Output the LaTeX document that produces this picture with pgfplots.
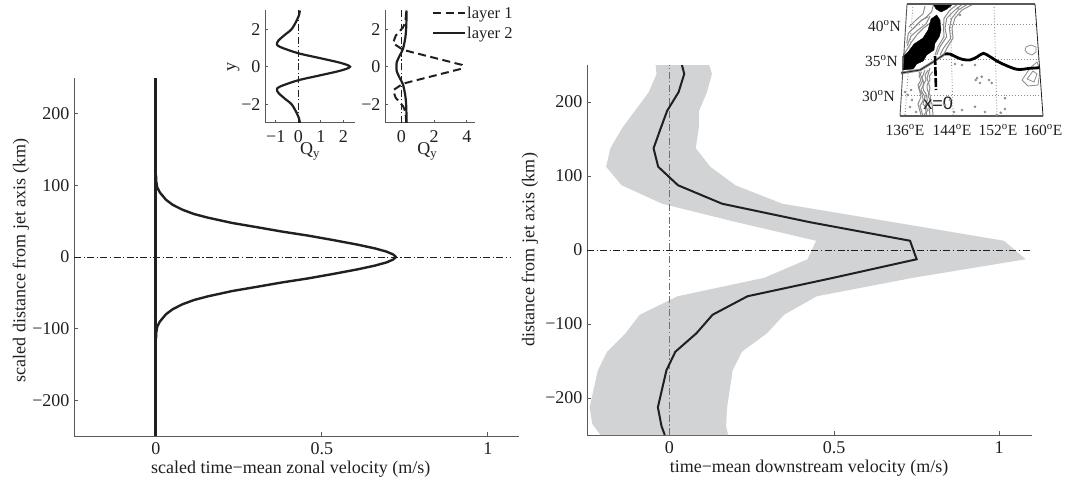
\documentclass[border=0pt]{standalone}
\usepackage{pgfplots}
\pgfplotsset{compat=1.18}
\usepackage{fontspec}
\setmainfont{Liberation Serif}
\newfontfamily\arialfont{Liberation Sans}
\definecolor{ink}{HTML}{231F20}
\definecolor{spine}{HTML}{58595B}
\definecolor{shade}{HTML}{D1D3D4}
\definecolor{cont}{HTML}{8C8C8C}
\pgfplotsset{
  base/.style={scale only axis, axis lines=left, axis line style={spine,line width=1pt,-},
    tick align=inside, major tick length=4pt, tick style={spine,line width=.8pt},
    tick label style={font=\fontsize{18}{21}\selectfont, text=ink},
    label style={font=\fontsize{18}{21}\selectfont, text=ink},
    xticklabel style={yshift=-3pt}, yticklabel style={xshift=-1pt}},
  ddot/.style={dash pattern=on 7pt off 2.5pt on 1.2pt off 2.5pt},
}
\begin{document}
\begin{tikzpicture}[x=1pt,y=1pt]
\path[use as bounding box] (0,0) rectangle (1066,480);
% left main
\begin{axis}[base, at={(74pt,44pt)}, anchor=south west, width=445pt, height=358pt,
  xmin=-0.247,xmax=1.094,ymin=-250,ymax=250,
  xtick={0,0.5,1},xticklabels={0,0.5,1},
  ytick={-200,-100,0,100,200},yticklabels={−200,−100,0,100,200},
  xlabel={scaled time−mean zonal velocity (m/s)},
  ylabel={scaled distance from jet axis (km)},
  xlabel style={anchor=center,at={(axis description cs:0.487,-0.092)}},
  ylabel style={anchor=center,rotate=0,at={(axis description cs:-0.119,0.49)}}]
\addplot[ink,line width=1pt,ddot] coordinates {(-0.247,0) (1.07,0)};
\addplot[ink,line width=3pt] coordinates {(0,-250) (0,250)};
\addplot[ink,line width=2.4pt,line join=round] coordinates {
 (0,-115) (0.001,-105) (0.004,-97) (0.012,-90) (0.03,-80) (0.05,-73) (0.08,-66) (0.115,-60) (0.156,-55) (0.23,-47.5) (0.306,-41.5) (0.38,-35.5) (0.457,-30) (0.53,-24) (0.607,-17.3) (0.66,-12) (0.695,-7.5) (0.715,-3.5) (0.723,0)
 (0.715,3.5) (0.695,7.5) (0.66,12) (0.607,17.3) (0.53,24) (0.457,30) (0.38,35.5) (0.306,41.5) (0.23,47.5) (0.156,55) (0.115,60) (0.08,66) (0.05,73) (0.03,80) (0.012,90) (0.004,97) (0.001,105) (0,115)};
\end{axis}
% right main
\begin{axis}[base, at={(587pt,45pt)}, anchor=south west, width=445pt, height=370pt,
  xmin=-0.25,xmax=1.1,ymin=-250,ymax=250,
  xtick={0,0.5,1},xticklabels={0,0.5,1},
  ytick={-200,-100,0,100,200},yticklabels={−200,−100,0,100,200},
  xlabel={time−mean downstream velocity (m/s)},
  ylabel={distance from jet axis (km)},
  xlabel style={anchor=center,at={(axis description cs:0.499,-0.091)}},
  ylabel style={anchor=center,rotate=0,at={(axis description cs:-0.128,0.5)}}]
\addplot[fill=shade,draw=none] coordinates {
 (-0.042,250) (-0.039,238) (-0.063,213) (-0.143,165) (-0.179,137.5) (-0.192,112.5) (-0.145,87.5) (-0.022,62.5) (0.205,37.5) (0.445,12.5)
 (0.419,-12.5) (0.288,-37.5) (0.025,-62.5) (-0.09,-87.5) (-0.133,-112.5) (-0.189,-137.5) (-0.217,-162.5) (-0.242,-212.5) (-0.234,-235) (-0.209,-250)
 (0.178,-250) (0.172,-238) (0.175,-212.5) (0.192,-162.5) (0.22,-137.5) (0.296,-112.5) (0.348,-87.5) (0.447,-62.5) (0.74,-37.5) (1.081,-12.5)
 (1.015,12.5) (0.68,37.5) (0.343,62.5) (0.2,87.5) (0.124,112.5) (0.08,137.5) (0.089,165) (0.09,188) (0.114,213.5) (0.129,238) (0.121,250)} -- cycle;
\addplot[cont!80!black,line width=1.5pt,ddot] coordinates {(0,-250) (0,250)};
\addplot[ink,line width=1pt,ddot] coordinates {(-0.25,0) (1.1,0)};
\addplot[ink,line width=2pt] coordinates {
 (0.038,250) (0.045,238) (0.028,213.5) (-0.007,188) (-0.028,162.5) (-0.048,137.5) (-0.034,112.5) (0.026,87.5) (0.16,62.5) (0.427,37.5) (0.73,12.5)
 (0.75,-12.5) (0.498,-37.5) (0.237,-62.5) (0.131,-87.5) (0.082,-112.5) (0.018,-137.5) (-0.009,-162.5) (-0.035,-212.5) (-0.024,-238) (-0.014,-250)};
\end{axis}
% inset 1
\begin{axis}[base, at={(265pt,357pt)}, anchor=south west, width=90pt, height=112.5pt,
  xmin=-1.48,xmax=2.52,ymin=-3,ymax=3,
  xtick={-1,0,1,2},xticklabels={−1,0,1,2},
  ytick={-2,0,2},yticklabels={−2,0,2},
  major tick length=3pt,
  xticklabel style={yshift=-1pt},
  xlabel={Q\textsubscript{y}},ylabel={y},
  xlabel style={anchor=center,at={(axis description cs:0.5,-0.25)}},
  ylabel style={anchor=center,rotate=0,at={(axis description cs:-0.35,0.5)}}]
\addplot[ink,line width=.7pt,ddot] coordinates {(0,-3) (0,3)};
\addplot[ink,line width=2.2pt,smooth] coordinates {
 (0.07,-3) (0.03,-2.75) (-0.1,-2.4) (-0.3,-2) (-0.6,-1.7) (-0.88,-1.4) (-0.95,-1.2) (-0.8,-1.05) (0,-0.72) (1,-0.45) (1.9,-0.2) (2.3,0)
 (1.9,0.2) (1,0.45) (0,0.72) (-0.8,1.05) (-0.95,1.2) (-0.88,1.4) (-0.6,1.7) (-0.3,2) (-0.1,2.4) (0.03,2.75) (0.07,3)};
\end{axis}
% inset 2
\begin{axis}[base, at={(385pt,357pt)}, anchor=south west, width=90pt, height=112.5pt,
  xmin=-1,xmax=4.5,ymin=-3,ymax=3,
  xtick={0,2,4},xticklabels={0,2,4},
  ytick={-2,0,2},yticklabels={−2,0,2},
  major tick length=3pt,
  xticklabel style={yshift=-1pt},
  xlabel={Q\textsubscript{y}},
  xlabel style={anchor=center,at={(axis description cs:0.47,-0.25)}},
  legend style={draw=none,fill=none,at={(0.52,1.045)},anchor=north west,
    font=\fontsize{16.5}{18}\selectfont,text=ink,row sep=5pt,inner sep=0pt,nodes={inner sep=1pt}},
  legend cell align=left,
  legend image code/.code={\draw[#1] (0pt,0pt) -- (32pt,0pt);}]
\addplot[ink,line width=.7pt,ddot,forget plot] coordinates {(0,-3) (0,3)};
\addplot[ink,line width=2pt,dash pattern=on 8pt off 4.5pt] coordinates {
 (0.3,-3) (0.25,-2.4) (0.1,-2.1) (-0.35,-1.65) (-0.45,-1.4) (-0.5,-1.25) (0.1,-0.9) (3.7,-0.1)
 (3.7,0.1) (0.1,0.9) (-0.5,1.25) (-0.45,1.4) (-0.35,1.65) (0.1,2.1) (0.25,2.4) (0.3,3)};
\addlegendentry{layer 1}
\addplot[ink,line width=2.2pt,smooth] coordinates {
 (0.32,-3) (0.3,-2.2) (0.25,-1.6) (0.1,-0.95) (-0.1,-0.6) (-0.28,-0.25) (-0.3,0) (-0.28,0.25) (-0.1,0.6) (0.1,0.95) (0.25,1.6) (0.3,2.2) (0.32,3)};
\addlegendentry{layer 2}
\end{axis}
% map, in picture coordinates
\begin{axis}[at={(0pt,0pt)}, anchor=south west, scale only axis, width=1066pt, height=480pt,
  xmin=0,xmax=1066,ymin=0,ymax=480,y dir=reverse,hide axis,clip=false]
% graticule
\addplot[cont,line width=.9pt,dotted] coordinates {(910,24) (1037,24)};
\addplot[cont,line width=.9pt,dotted] coordinates {(905,59) (1040,59)};
\addplot[cont,line width=.9pt,dotted] coordinates {(902,95) (1042,95)};
\addplot[cont,line width=.9pt,dotted] coordinates {(913,4) (905,116)};
\addplot[cont,line width=.9pt,dotted] coordinates {(950,4) (953,116)};
\addplot[cont,line width=.9pt,dotted] coordinates {(994,4) (997,116)};
% contours
\addplot[cont,line width=1pt] coordinates {(957,4.7) (950,10) (944,18.3) (943.5,28.3) (944,36.7) (938,46.7) (935,55)};
\addplot[cont,line width=1pt] coordinates {(961.7,4.7) (955,10) (946.7,18.3) (945,28.3) (946.7,36.7) (940,46.7) (936.7,55)};
\addplot[cont,line width=1pt] coordinates {(966.7,4.7) (958.3,10) (951.7,18.3) (949.3,28.3) (950.7,38.3) (943.3,48.3) (940,55)};
\addplot[cont,line width=1pt] coordinates {(972,4.7) (962,10) (955,18) (952,28) (953,38) (947,48) (944,54)};
\addplot[cont,line width=1pt] coordinates {(928.3,16.7) (921.7,20) (915,26.7) (908.3,33.3) (906.7,43.3)};
\addplot[cont,line width=1pt] coordinates {(930,23.3) (923.3,28.3) (916.7,35) (911.7,41.7) (906.7,50) (903.3,55)};
\addplot[cont,line width=1pt] coordinates {(933.3,4.7) (931.7,11.7) (926.7,16.7) (920,21.7) (913,29)};
\addplot[cont,line width=1pt] coordinates {(925,6) (923,14) (916,20) (909,27)};
\addplot[cont,line width=1pt] coordinates {(930,16) (926,24) (918,30) (911,36) (907,46)};
\addplot[cont,line width=1pt] coordinates {(921.7,71.7) (919,76) (921,80) (918,85) (919.3,90) (922,94) (923.3,100) (920,106) (922.7,115)};
\addplot[cont,line width=1pt] coordinates {(928.3,70) (925,75) (926,80) (923,85) (923.3,90) (926,94) (927.3,100) (925,107) (926.7,115)};
\addplot[cont,line width=1pt] coordinates {(932.7,71.7) (929.3,76) (930,80) (927,85) (927.3,90) (930,95) (930.7,100) (929,107) (930,115)};
\addplot[cont,line width=1pt] coordinates {(925,70) (922,78) (924,84) (921,90) (925,97) (923,104) (928,110) (924,115)};
\addplot[cont,line width=1pt] coordinates {(919,72) (923,80) (919,88) (921,97) (918,104) (921,115)};
\addplot[cont,line width=1pt] coordinates {(930,68) (927,78) (930,88) (928,96) (932,104) (933,115)};
\addplot[cont,line width=.8pt] coordinates {(1026,47) (1031,45) (1036,47) (1036,52) (1032,55) (1027,53) (1025,50) (1026,47)};
\addplot[cont,line width=.8pt] coordinates {(1022,80) (1030,68) (1037,62) (1040,70) (1038,85) (1028,86) (1022,80)};
\addplot[cont,line width=.8pt] coordinates {(1027,79) (1033,71) (1037,74) (1034,82) (1027,79)};
% land
\addplot[black,fill=black,line width=.3pt] coordinates {(933,4) (953,4) (947,9) (941,12) (936,9)} -- cycle;
\addplot[black,fill=black,line width=.3pt] coordinates {
 (931,19) (936.7,15) (940,20) (941,30) (939.3,36.7) (935,43.3) (934,50) (926.7,55) (923.3,61) (916.7,64) (913.3,69) (902.5,70) (902.5,56.7) (908,52) (914,44) (923,38) (928,30)} -- cycle;
% seamounts
\addplot[only marks,mark=*,mark size=1.1pt,cont,mark options={draw=cont,fill=cont}] coordinates {
 (975,65) (975.7,80) (980,83) (981.7,76.7) (991.7,83) (1005,98.3) (1005,109) (996.7,115) (1000.7,112.7) (975,106.7)
 (960,15) (962,110) (977,78) (950,100) (954,112) (945,105) (905,92) (908,95) (911,90) (910,107) (955,64) (962,65)
 (916,112) (912,100) (989,80) (985,112) (958,8)};
% stream
\addplot[cont,line width=2.6pt] coordinates {(901,73) (920,70) (933,62) (945,54)};
\addplot[ink,line width=.8pt] coordinates {(901,73) (920,70) (933,62) (945,54)};
\addplot[black,line width=2.8pt,smooth] coordinates {(945,54) (950,54) (956.7,57.3) (963,59.5) (970,60) (977,57) (983.3,53.3) (990,56.7) (1000,62.7) (1016.7,69.3) (1030,68.3) (1040,67.7)};
\addplot[black,line width=2.6pt,dash pattern=on 9pt off 2pt] coordinates {(935,56) (936,90)};
% frame
\addplot[spine,line width=.9pt] coordinates {(907,4) (900,116)};
\addplot[spine,line width=1.1pt] coordinates {(907,4) (1035,4)};
\addplot[ink,line width=.8pt] coordinates {(1035,4) (1043,116)};
\addplot[spine,line width=1.1pt] coordinates {(900,116) (1043,116)};
\node[font=\arialfont\fontsize{18}{20}\selectfont,text=ink] at (axis cs:938,103) {x=0};
\foreach \xx/\yy/\tt in {901/26/40,898/61/35,895/96/30}{
 \edef\temp{\noexpand\node[anchor=east,inner sep=0pt,font=\noexpand\fontsize{15.5}{18}\noexpand\selectfont,text=ink] at (axis cs:\xx,\yy) {\tt\noexpand\textsuperscript{o}N};}\temp}
\foreach \xx/\tt in {905/136,952/144,998/152,1043/160}{
 \edef\temp{\noexpand\node[inner sep=0pt,font=\noexpand\fontsize{15.5}{18}\noexpand\selectfont,text=ink] at (axis cs:\xx,130) {\tt\noexpand\textsuperscript{o}E};}\temp}
\end{axis}
\end{tikzpicture}
\end{document}
